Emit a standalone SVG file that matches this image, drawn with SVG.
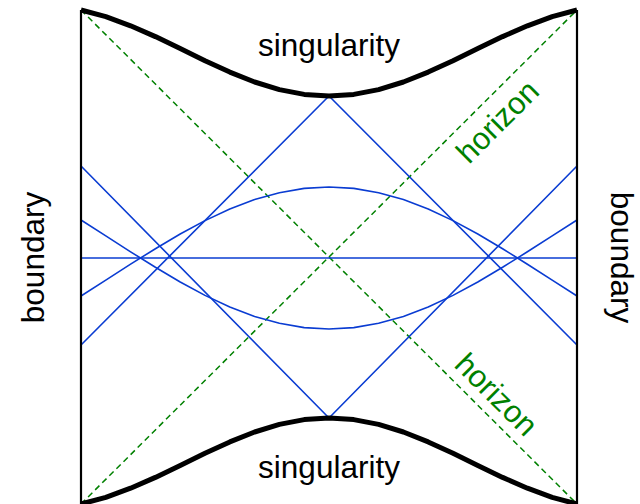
<svg xmlns="http://www.w3.org/2000/svg" width="640" height="504" viewBox="0 0 640 504">
<style>
.bd{stroke:#000;stroke-width:2.2;fill:none}
.sg{stroke:#000;stroke-width:5;fill:none;stroke-linejoin:round}
.hz{stroke:#008000;stroke-width:1.5;fill:none;stroke-dasharray:6,4}
.bl{stroke:#0a3cd2;stroke-width:1.6;fill:none;stroke-linejoin:round}
.lb{font-family:"Liberation Sans",Arial,sans-serif;font-size:31.5px;fill:#000}
.gl{font-family:"Liberation Sans",Arial,sans-serif;font-size:31px;fill:#008000}
</style>
<rect width="640" height="504" fill="#fff"/>
<g id="connectors">
<path class="hz" d="M81,10 L577,504"/>
<path class="hz" d="M81,504 L577,10"/>
<path class="bl" d="M81,345 L329,96 L577,345"/>
<path class="bl" d="M81,166 L329,418 L577,166"/>
<path class="bl" d="M81,258 L577,258"/>
<path class="bl" d="M81,296 L105.8,280.2 L130.6,264.2 L155.4,248.7 L180.2,234 L205,220.6 L229.8,209 L254.6,199.6 L279.4,192.7 L304.2,188.4 L329,187 L353.8,188.4 L378.6,192.7 L403.4,199.6 L428.2,209 L453,220.6 L477.8,234 L502.6,248.7 L527.4,264.2 L552.2,280.2 L577,296"/>
<path class="bl" d="M81,220 L105.8,235.8 L130.6,251.8 L155.4,267.3 L180.2,282 L205,295.4 L229.8,307 L254.6,316.4 L279.4,323.3 L304.2,327.6 L329,329 L353.8,327.6 L378.6,323.3 L403.4,316.4 L428.2,307 L453,295.4 L477.8,282 L502.6,267.3 L527.4,251.8 L552.2,235.8 L577,220"/>
</g>
<g id="boundary-left">
<path class="bd" d="M81,10 L81,504"/>
<text class="lb" text-anchor="middle" transform="translate(44,257.5) rotate(-90)">boundary</text>
</g>
<g id="boundary-right">
<path class="bd" d="M577,10 L577,504"/>
<text class="lb" text-anchor="middle" transform="translate(611,257.5) rotate(90)">boundary</text>
</g>
<g id="singularity-top">
<path class="sg" d="M81,10 L105.8,16.6 L130.6,25.8 L155.4,36.6 L180.2,48.6 L205,60.7 L229.8,72.1 L254.6,82 L279.4,89.6 L304.2,94.4 L329,96 L353.8,94.4 L378.6,89.6 L403.4,82 L428.2,72.1 L453,60.7 L477.8,48.6 L502.6,36.6 L527.4,25.8 L552.2,16.6 L577,10"/>
<text class="lb" x="329" y="56" text-anchor="middle">singularity</text>
</g>
<g id="singularity-bottom">
<path class="sg" d="M81,504 L105.8,497.4 L130.6,488.2 L155.4,477.4 L180.2,465.4 L205,453.3 L229.8,441.9 L254.6,432 L279.4,424.4 L304.2,419.6 L329,418 L353.8,419.6 L378.6,424.4 L403.4,432 L428.2,441.9 L453,453.3 L477.8,465.4 L502.6,477.4 L527.4,488.2 L552.2,497.4 L577,504"/>
<text class="lb" x="329" y="478" text-anchor="middle">singularity</text>
</g>
<g id="horizon-upper">
<text class="gl" text-anchor="middle" transform="translate(505,129) rotate(-45)">horizon</text>
</g>
<g id="horizon-lower">
<text class="gl" text-anchor="middle" transform="translate(489,402) rotate(45)">horizon</text>
</g>
</svg>
